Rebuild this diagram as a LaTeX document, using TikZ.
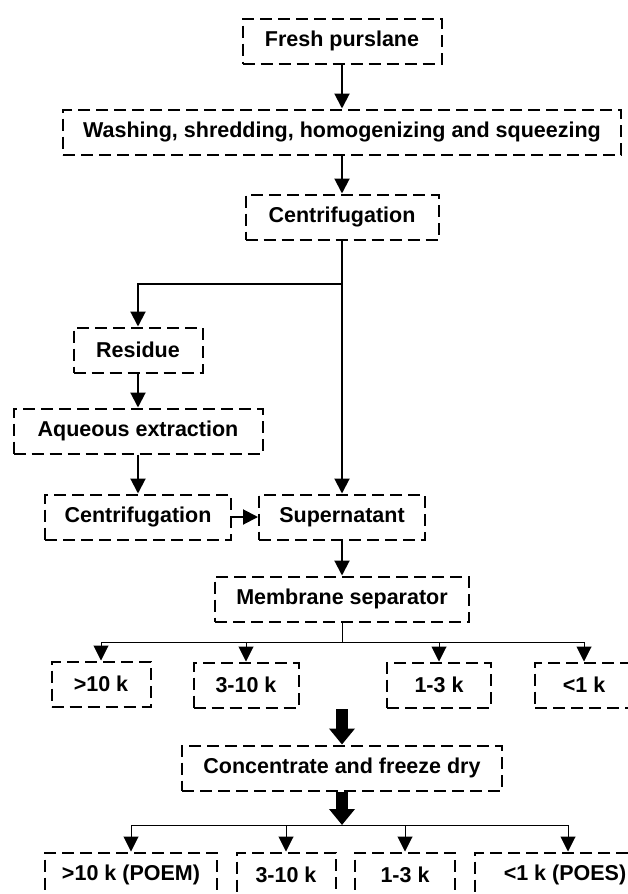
\documentclass[tikz,border=0pt]{standalone}
\usepackage{fontspec}
\setmainfont{Liberation Sans}
\usetikzlibrary{arrows.meta}

\begin{document}
\begin{tikzpicture}[x=1pt,y=-1pt,>={Triangle[width=15pt,length=15pt]},
                    line width=2pt,font=\fontsize{21.5}{25}\selectfont\bfseries]
  \tikzstyle{box}=[draw,dash pattern=on 12pt off 6pt,minimum height=45pt,inner sep=0pt]
  \tikzstyle{branch}=[line width=1pt]
  \tikzstyle{fat}=[line width=12pt,-{Triangle[width=25pt,length=16pt]}]

  \useasboundingbox (0,0) rectangle (627,894);

  \node[box,minimum width=199pt] (fresh)    at (342,41)  {Fresh purslane};
  \node[box,minimum width=558pt] (wash)     at (342,132) {Washing, shredding, homogenizing and squeezing};
  \node[box,minimum width=193pt] (centA)    at (342,217) {Centrifugation};
  \node[box,minimum width=129pt] (residue)  at (138,350) {Residue};
  \node[box,minimum width=249pt] (aqueous)  at (138,431) {Aqueous extraction};
  \node[box,minimum width=186pt] (centB)    at (138,517) {Centrifugation};
  \node[box,minimum width=166pt] (super)    at (342,517) {Supernatant};
  \node[box,minimum width=254pt] (membrane) at (342,599) {Membrane separator};

  \node[box,minimum width=99pt]  (sA)       at (101,684) {>10 k};
  \node[box,minimum width=105pt] (sB)       at (246,685) {3-10 k};
  \node[box,minimum width=104pt] (sC)       at (439,685) {1-3 k};
  \node[box,minimum width=98pt]  (sD)       at (584,685) {<1 k};

  \node[box,minimum width=320pt] (conc)     at (342,768) {Concentrate and freeze dry};

  \node[box,minimum width=172pt] (fA)       at (131,875) {>10 k (POEM)};
  \node[box,minimum width=99pt]  (fB)       at (286,875) {3-10 k};
  \node[box,minimum width=100pt] (fC)       at (405,875) {1-3 k};
  \node[box,minimum width=180pt] (fD)       at (565,875) {<1 k (POES)};

  \coordinate (split)  at (342,284);
  \coordinate (msplit) at (342,642);
  \coordinate (gather) at (342,709);
  \coordinate (fsplit) at (342,825);

  % main line
  \draw[->] (fresh) -- (wash);
  \draw[->] (wash) -- (centA);
  \draw (centA) -- (split);
  \draw[->] (split) -| (residue);
  \draw[->] (split) -- (super);
  \draw[->] (residue) -- (aqueous);
  \draw[->] (aqueous) -- (centB);
  \draw[->] (centB) -- (super);
  \draw[->] (super) -- (membrane);

  % membrane fractions
  \draw[branch] (membrane) -- (msplit);
  \foreach \s in {sA,sB,sC,sD}
    \draw[branch,->] (msplit) -| (\s);

  \draw[fat] (gather) -- (conc);
  \draw[fat] (conc) -- (fsplit);
  \foreach \f in {fA,fB,fC}
    \draw[branch,->] (fsplit) -| (\f);
  \draw[branch,->] (fsplit) -| ([xshift=3pt]fD.north);
\end{tikzpicture}
\end{document}
